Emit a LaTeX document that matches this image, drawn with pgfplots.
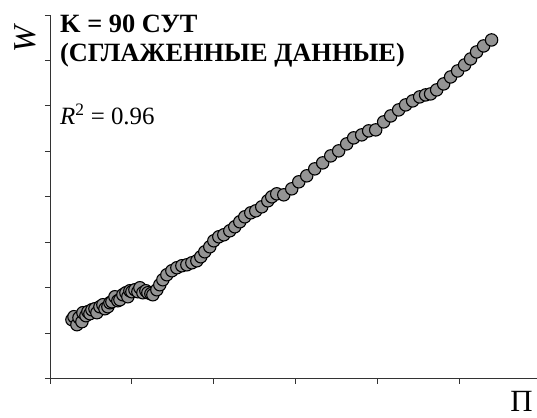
\documentclass[border=0pt]{standalone}
\usepackage{fontspec}
\setmainfont{Liberation Serif}
\usepackage{pgfplots}
\pgfplotsset{compat=1.18}
\begin{document}
\begin{tikzpicture}
\begin{axis}[
  scale only axis,
  width=487bp, height=364bp,
  xmin=0, xmax=5.939, ymin=0, ymax=8,
  axis x line*=bottom, axis y line*=left,
  axis line style={line width=0.9bp, black!80},
  xtick={0,1,2,3,4,5}, ytick={0,1,2,3,4,5,6,7,8},
  xticklabels={}, yticklabels={},
  tick align=outside, major tick length=5bp,
  tick style={line width=0.9bp, black!80},
  clip=false,
]
\addplot[only marks, mark=*, mark size=6.2bp,
  mark options={fill=black!42, draw=black, line width=1.1bp}]
coordinates {
(0.268,1.297)(0.293,1.363)(0.329,1.187)(0.354,1.341)(0.390,1.253)(0.402,1.451)
(0.439,1.385)(0.463,1.473)(0.488,1.429)(0.512,1.516)(0.549,1.538)(0.573,1.451)
(0.610,1.582)(0.646,1.626)(0.671,1.538)(0.707,1.582)(0.732,1.670)(0.756,1.692)
(0.793,1.802)(0.829,1.714)(0.854,1.736)(0.890,1.846)(0.927,1.890)(0.951,1.802)
(0.976,1.934)(1.000,1.912)(1.037,1.956)(1.073,1.912)(1.098,2.000)(1.134,1.890)
(1.171,1.934)(1.195,1.890)(1.232,1.868)(1.256,1.846)(1.305,1.956)(1.341,2.066)
(1.378,2.176)(1.427,2.286)(1.488,2.374)(1.549,2.440)(1.610,2.484)(1.671,2.505)
(1.732,2.549)(1.793,2.593)(1.841,2.681)(1.890,2.791)(1.951,2.901)(2.000,3.033)
(2.061,3.121)(2.122,3.165)(2.195,3.253)(2.256,3.341)(2.317,3.451)(2.378,3.560)
(2.451,3.648)(2.512,3.692)(2.585,3.780)(2.659,3.912)(2.707,4.000)(2.768,4.066)
(2.854,4.044)(2.951,4.176)(3.037,4.330)(3.134,4.462)(3.232,4.615)(3.329,4.747)
(3.427,4.901)(3.524,5.011)(3.622,5.165)(3.707,5.297)(3.805,5.363)(3.890,5.451)
(3.976,5.473)(4.073,5.648)(4.159,5.780)(4.256,5.912)(4.341,6.022)(4.427,6.110)
(4.512,6.198)(4.585,6.242)(4.646,6.264)(4.720,6.352)(4.805,6.484)(4.890,6.637)
(4.976,6.769)(5.061,6.901)(5.134,7.033)(5.207,7.187)(5.293,7.319)(5.390,7.451)
};
\node[anchor=base west, inner sep=0pt, font=\fontsize{26.5}{30}\selectfont\bfseries] at (axis cs:0.122,7.604) {K = 90 СУТ};
\node[anchor=base west, inner sep=0pt, font=\fontsize{26.5}{30}\selectfont\bfseries] at (axis cs:0.122,6.967) {(СГЛАЖЕННЫЕ ДАННЫЕ)};
\node[anchor=base west, inner sep=0pt, font=\fontsize{25}{29}\selectfont] at (axis cs:0.122,5.582) {\textit{R}\textsuperscript{2} = 0.96};
\node[rotate=90, inner sep=0pt, font=\fontsize{32}{36}\selectfont] at ([xshift=-25bp,yshift=-23bp]rel axis cs:0,1) {\textit{W}};
\node[anchor=north, inner sep=0pt, font=\fontsize{31}{35}\selectfont] at ([xshift=-15bp,yshift=-12bp]rel axis cs:1,0) {Π};
\path ([xshift=-50bp,yshift=15bp]rel axis cs:0,1) ([yshift=-39bp]rel axis cs:1,0);
\end{axis}
\end{tikzpicture}
\end{document}
